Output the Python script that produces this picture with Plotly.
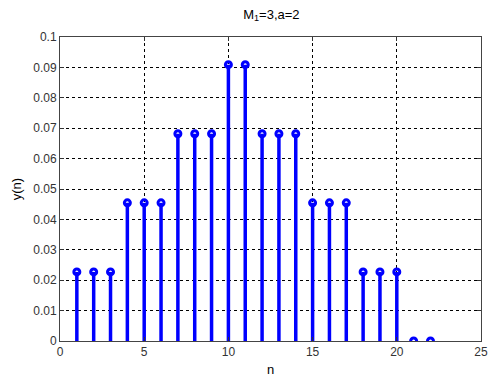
import plotly.graph_objects as go

n = list(range(1, 23))
y = [1/44]*3 + [2/44]*3 + [3/44]*3 + [4/44]*2 + [3/44]*3 + [2/44]*3 + [1/44]*3 + [0, 0]

xs, ys = [], []
for xi, yi in zip(n, y):
    xs += [xi, xi, None]
    ys += [0, yi, None]

fig = go.Figure()
fig.add_trace(go.Scatter(x=xs, y=ys, mode="lines", line=dict(color="#0000ff", width=3.5),
                         hoverinfo="skip", showlegend=False))
fig.add_trace(go.Scatter(x=n, y=y, mode="markers",
                         marker=dict(symbol="circle-open", size=6, color="#0000ff",
                                     line=dict(width=3, color="#0000ff")),
                         showlegend=False))

axis_common = dict(showgrid=True, gridcolor="#000000", griddash="dot", gridwidth=1,
                   ticks="inside", ticklen=4, tickcolor="#333333", automargin=False,
                   showline=True, linecolor="#444444", mirror="allticks", zeroline=False,
                   tickfont=dict(family="Liberation Sans, Arial", size=12, color="#333333"))

fig.update_xaxes(range=[0, 25], dtick=5, tick0=0, **axis_common,
                 title=dict(text="n", font=dict(family="Liberation Sans, Arial", size=13, color="#000"), standoff=6))
fig.update_yaxes(range=[0, 0.1], dtick=0.01, tick0=0, **axis_common,
                 title=dict(text="y(n)", font=dict(family="Liberation Sans, Arial", size=13, color="#000"), standoff=8))

fig.update_layout(
    width=489, height=378,
    margin=dict(l=60, r=8, t=37, b=37),
    plot_bgcolor="white", paper_bgcolor="white",
    title=dict(text="M<sub>1</sub>=3,a=2", x=0.555, xanchor="center", y=0.975, yanchor="top",
               font=dict(family="Liberation Sans, Arial", size=13, color="#000")),
)

fig.write_html("out.html")
